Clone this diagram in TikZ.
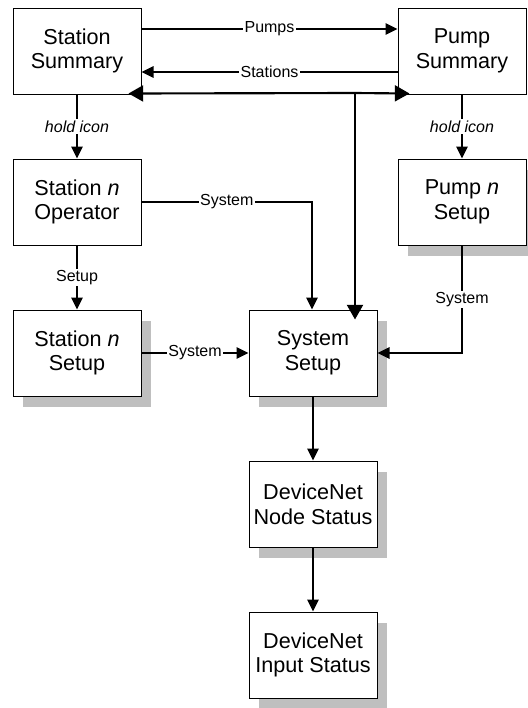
\documentclass[tikz,border=0pt]{standalone}
\usepackage{fontspec}
\setmainfont{Liberation Sans}
\usetikzlibrary{arrows.meta,shadows,calc}
\tikzset{
  box/.style={draw=black, line width=0.75pt, fill=white, minimum width=96pt, minimum height=64.5pt,
    inner sep=0pt, align=center, font=\fontsize{16.2}{18.5}\selectfont},
  shbox/.style={box, drop shadow={shadow xshift=7.5pt, shadow yshift=-8pt, fill=black!25, opacity=1}},
  conn/.style={line width=1.6pt, -{Triangle[length=9pt,width=8.5pt]}},
  bigconn/.style={line width=1.6pt, -{Triangle[length=11pt,width=12pt]}},
  lbl/.style={fill=white, inner sep=1pt, font=\fontsize{12}{14}\selectfont},
}
\begin{document}
\begin{tikzpicture}[x=0.75pt,y=-0.75pt]
\useasboundingbox (0,0) rectangle (528,708);
\node[box] (SS) at (77,51) {Station\\Summary};
\node[box] (PS) at (462,51) {Pump\\Summary};
\node[box] (SO) at (77,202) {Station \emph{n}\\Operator};
\node[shbox] (PN) at (462,202) {Pump \emph{n}\\Setup};
\node[shbox] (SN) at (77,353) {Station \emph{n}\\Setup};
\node[shbox] (SY) at (313,353) {System\\Setup};
\node[shbox] (DN) at (313,504) {DeviceNet\\Node Status};
\node[shbox] (DI) at (313,655) {DeviceNet\\Input Status};
% top connectors
\draw[conn] (SS.east |- 0,29) -- node[lbl]{Pumps} (PS.west |- 0,29);
\draw[conn] (PS.west |- 0,72) -- node[lbl]{Stations} (SS.east |- 0,72);
\coordinate (J) at ($(SY.north)+(42,0)$);
\coordinate (Jt) at (J |- 0,93);
\draw[bigconn] (Jt) -- ($(SS.south east)+(-13,-1)$);
\draw[bigconn] (Jt) -- ($(PS.south west)+(12,-1)$);
\draw[bigconn] (Jt) -- ($(SY.north)+(42,10)$);
% hold icon
\draw[conn] (SS.south) -- node[lbl]{\itshape hold icon} (SO.north);
\draw[conn] (PS.south) -- node[lbl]{\itshape hold icon} (PN.north);
% setup
\draw[conn] (SO.south) -- node[lbl]{Setup} (SN.north);
% system links
\draw[conn] (SO.east) -| node[lbl,pos=0.25]{System} ($(SY.north)+(-1,0)$);
\draw[conn] (SN.east) -- node[lbl]{System} (SY.west);
\draw[conn] (PN.south) |- node[lbl,pos=0.25]{System} (SY.east);
\draw[conn] (SY.south) -- (DN.north);
\draw[conn] (DN.south) -- (DI.north);
\end{tikzpicture}
\end{document}
